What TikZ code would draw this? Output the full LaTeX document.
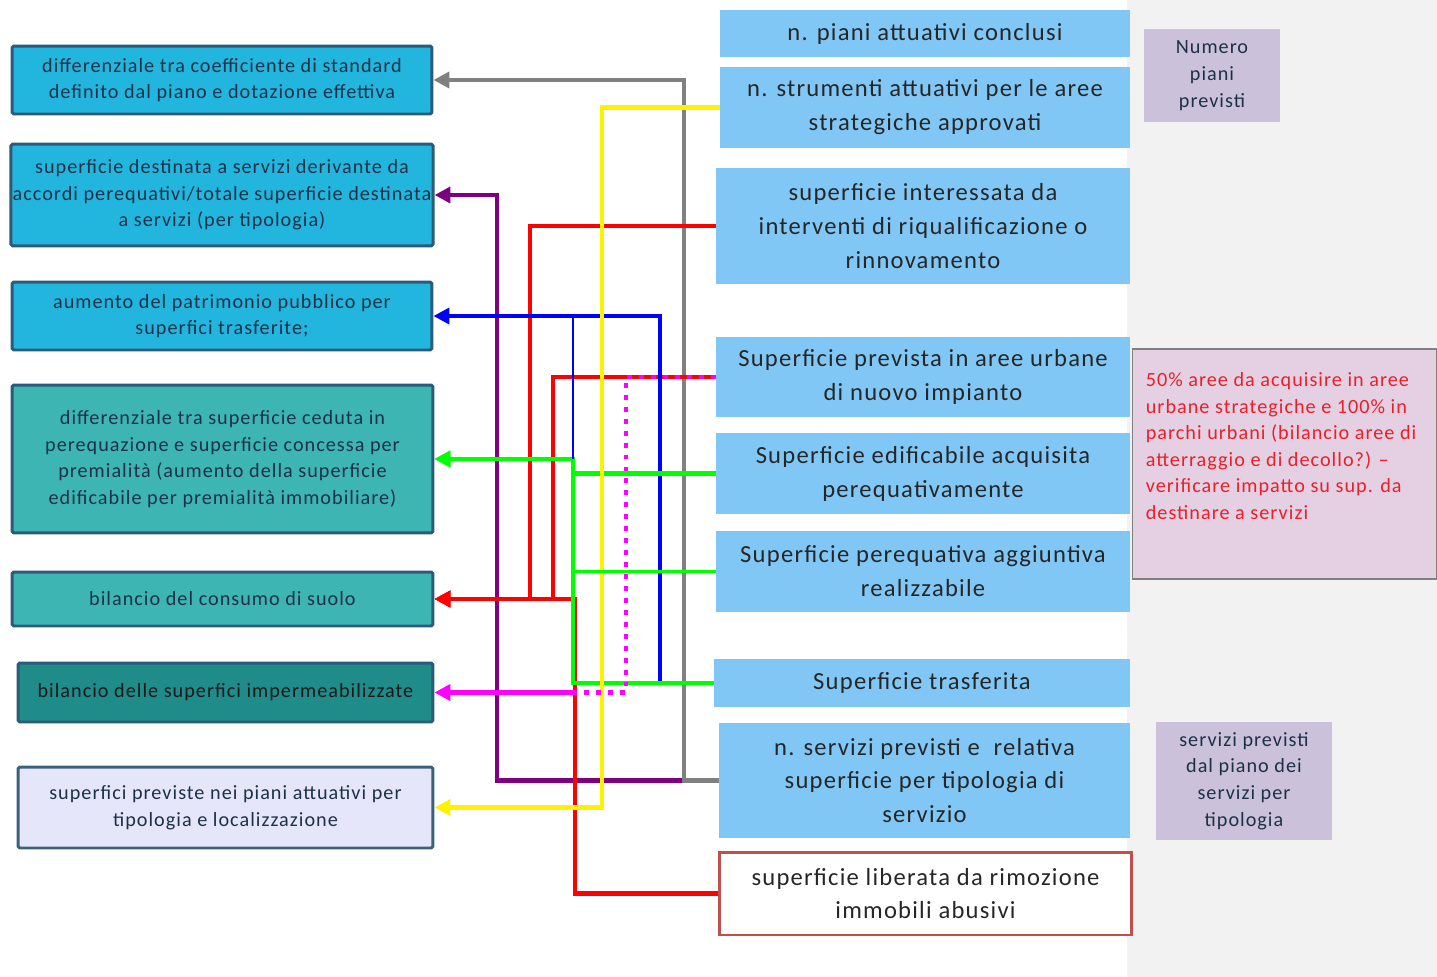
\documentclass[tikz,border=0pt]{standalone}
\usepackage{fontspec}
\setmainfont{Carlito}[LetterSpace=5]
\usetikzlibrary{arrows.meta}
\definecolor{cyanbox}{HTML}{22B5DD}
\definecolor{tealbox}{HTML}{3DB5B3}
\definecolor{darkteal}{HTML}{1F8C8A}
\definecolor{lavbox}{HTML}{E6E6FA}
\definecolor{skybox}{HTML}{80C7F6}
\definecolor{lilacbox}{HTML}{CCC1DA}
\definecolor{pinkbox}{HTML}{E4D0E2}
\definecolor{edgeblue}{HTML}{2B5B7A}
\definecolor{edgered}{HTML}{C0504D}
\definecolor{bggray}{HTML}{F2F2F2}
\definecolor{inkdark}{HTML}{1C3148}
\definecolor{notered}{HTML}{E8202A}
\definecolor{purpleline}{HTML}{7F007F}
\definecolor{magline}{HTML}{FF00FF}
\begin{document}
\begin{tikzpicture}[x=0.02cm,y=-0.02cm,>={Triangle[length=9pt,width=9pt]},line join=miter,
	lbox/.style={draw=edgeblue,line width=1.7pt,rounded corners=1pt,text=inkdark,align=center,inner sep=1pt,font=\fontsize{11.5}{15.2}\selectfont},
	rbox/.style={fill=skybox,text=black!85,align=center,inner sep=1pt,font=\fontsize{14}{19.3}\selectfont},
	sbox/.style={fill=lilacbox,text=inkdark,align=center,inner sep=1pt,font=\fontsize{11.5}{15.2}\selectfont},
	conn/.style={line width=2.8pt}]
		\useasboundingbox (0,0) rectangle (1437,977);
		\fill[bggray] (1127,0) rectangle (1437,977);
		\node[lbox,fill=cyanbox,minimum width=8.4cm,minimum height=1.36cm] (dcoef) at (222,80) {differenziale tra coefficiente di standard\\definito dal piano e dotazione effettiva};
		\node[lbox,fill=cyanbox,minimum width=8.4cm,minimum height=2.04cm] (destin) at (222,195) {superficie destinata a servizi derivante da\\accordi perequativi/totale superficie destinata\\a servizi (per tipologia)};
		\node[lbox,fill=cyanbox,minimum width=8.4cm,minimum height=1.36cm] (patrim) at (222,316) {aumento del patrimonio pubblico per\\superfici trasferite;};
		\node[lbox,fill=tealbox,minimum width=8.42cm,minimum height=2.96cm] (prem) at (222.5,459) {differenziale tra superficie ceduta in\\perequazione e superficie concessa per\\premialità (aumento della superficie\\edificabile per premialità immobiliare)};
		\node[lbox,fill=tealbox,minimum width=8.42cm,minimum height=1.08cm] (consumo) at (222.5,599) {bilancio del consumo di suolo};
		\node[lbox,fill=darkteal,text=black!90,minimum width=8.3cm,minimum height=1.18cm] (imperm) at (225.5,692.5) {bilancio delle superfici impermeabilizzate};
		\node[lbox,fill=lavbox,draw=edgeblue!80!gray,minimum width=8.3cm,minimum height=1.62cm] (localiz) at (225.5,807.5) {superfici previste nei piani attuativi per\\tipologia e localizzazione};
		\node[rbox,minimum width=8.2cm,minimum height=0.94cm] (conclusi) at (925,33.5) {n. piani attuativi conclusi};
		\node[rbox,minimum width=8.2cm,minimum height=1.62cm] (strum) at (925,107.5) {n. strumenti attuativi per le aree\\strategiche approvati};
		\node[rbox,minimum width=8.28cm,minimum height=2.32cm] (riqual) at (923,226) {superficie interessata da\\interventi di riqualificazione o\\rinnovamento};
		\node[rbox,minimum width=8.28cm,minimum height=1.6cm] (nuovo) at (923,377) {Superficie prevista in aree urbane\\di nuovo impianto};
		\node[rbox,minimum width=8.28cm,minimum height=1.62cm] (acquis) at (923,473.5) {Superficie edificabile acquisita\\perequativamente};
		\node[rbox,minimum width=8.28cm,minimum height=1.62cm] (aggiunt) at (923,571.5) {Superficie perequativa aggiuntiva\\realizzabile};
		\node[rbox,minimum width=8.32cm,minimum height=0.96cm] (trasf) at (922,683) {Superficie trasferita};
		\node[rbox,minimum width=8.22cm,minimum height=2.3cm] (nserv) at (924.5,780.5) {n. servizi previsti e\ \ relativa\\superficie per tipologia di\\servizio};
		\node[rbox,fill=white,draw=edgered,line width=1.7pt,minimum width=8.26cm,minimum height=1.66cm] (abusivi) at (925.5,893.5) {superficie liberata da rimozione\\immobili abusivi};
		\node[sbox,minimum width=2.72cm,minimum height=1.86cm] (npiani) at (1212,75.5) {Numero\\piani\\previsti};
		\node[sbox,minimum width=3.52cm,minimum height=2.36cm] (sprev) at (1244,781) {servizi previsti\\dal piano dei\\servizi per\\tipologia};
		\node[draw=gray,fill=pinkbox,line width=0.6pt,minimum width=6.1cm,minimum height=4.6cm] (nota) at (1284.5,464) {};
		\node[anchor=north west,text=notered,align=left,inner sep=0pt,font=\fontsize{11.5}{15.1}\selectfont] (notatxt) at ([xshift=0.28cm,yshift=-0.48cm]nota.north west) {50\% aree da acquisire in aree\\urbane strategiche e 100\% in\\parchi urbani (bilancio aree di\\atterraggio e di decollo?) --\\verificare impatto su sup. da\\destinare a servizi};
		\foreach \src/\dst/\bx/\col in {nserv/destin/497/purpleline,nserv/dcoef/684/gray,riqual/consumo/530/red,nuovo/consumo/553/red,abusivi/consumo/575/red,trasf/patrim/660/blue,acquis/prem/573/green,trasf/prem/573/green,strum/localiz/602/yellow}
			\draw[conn,\col,->] (\src.west) -- (\src.west -| \bx,0) |- (\dst.east);
		\draw[blue,line width=1.2pt] (patrim.east -| 573,0) -- (prem.east -| 573,0);
		\draw[green,line width=1.2pt] (aggiunt.west) -- (aggiunt.west -| 573,0);
		\draw[conn,magline,dash pattern=on 2.8pt off 4pt] (nuovo.west) -- (nuovo.west -| 626,0) |- (imperm.east -| 575,0);
		\draw[conn,magline,->] (imperm.east -| 575,0) -- (imperm.east);
\end{tikzpicture}
\end{document}
